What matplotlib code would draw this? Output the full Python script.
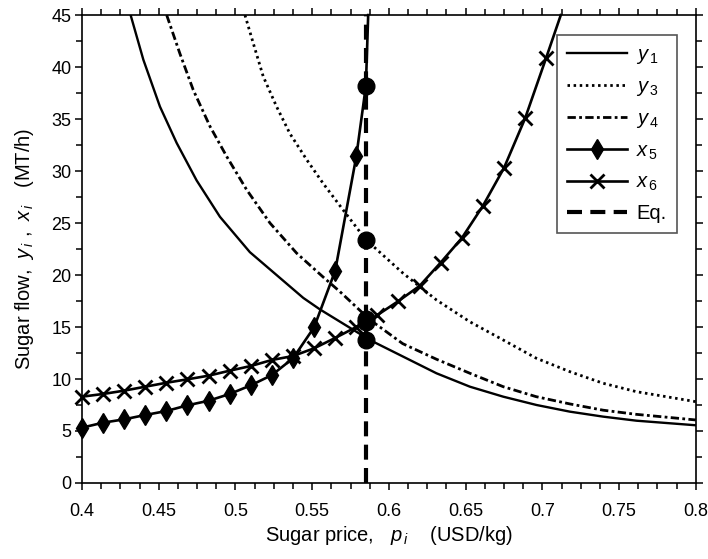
import matplotlib
matplotlib.use('Agg')
import matplotlib.pyplot as plt
import numpy as np

plt.rcParams['font.family'] = ['Liberation Sans', 'DejaVu Sans']
plt.rcParams['mathtext.fontset'] = 'custom'
plt.rcParams['mathtext.rm'] = 'Liberation Sans'
plt.rcParams['mathtext.it'] = 'Liberation Sans:italic'

# demand curves (price, flow)
p_y1 = [0.4317, 0.4400, 0.4508, 0.4617, 0.4747, 0.4899, 0.5094, 0.5268, 0.5442,
        0.555, 0.5876, 0.6093, 0.631, 0.6528, 0.6745, 0.6962, 0.7179, 0.7396,
        0.7613, 0.8]
y1 = [45, 40.7, 36.2, 32.7, 29.1, 25.6, 22.2, 20.0, 17.8,
      16.7, 13.75, 12.15, 10.55, 9.26, 8.3, 7.5, 6.86, 6.38,
      5.99, 5.55]

p_y3 = [0.5062, 0.5116, 0.5181, 0.5268, 0.5355, 0.5464, 0.5572, 0.5702, 0.585,
        0.609, 0.631, 0.6528, 0.6745, 0.696, 0.718, 0.7396, 0.7613, 0.8]
y3 = [45, 42.3, 39.1, 36.2, 33.6, 31.1, 28.8, 26.25, 23.4,
      20.2, 17.6, 15.5, 13.75, 12.0, 10.7, 9.59, 8.78, 7.82]

p_y4 = [0.4552, 0.4638, 0.4725, 0.4834, 0.4943, 0.5073, 0.5225, 0.5399, 0.5572,
        0.5681, 0.5876, 0.609, 0.631, 0.6528, 0.6745, 0.696, 0.718, 0.7396,
        0.7613, 0.8]
y4 = [45, 41.3, 37.8, 34.3, 31.4, 28.2, 25.0, 22.1, 19.8,
      18.4, 15.7, 13.4, 11.9, 10.55, 9.26, 8.3, 7.6, 7.0,
      6.6, 6.06]

# supply curves, one value per marker (last points are where they leave the top)
p_x5 = [0.4, 0.41375, 0.4275, 0.44125, 0.455, 0.46875, 0.4825, 0.49625,
        0.51, 0.52375, 0.5375, 0.55125, 0.565, 0.57875, 0.585, 0.5865]
x5 = [5.32, 5.8, 6.12, 6.54, 6.92, 7.47, 7.91, 8.56,
      9.39, 10.38, 11.99, 14.97, 20.41, 31.4, 38.2, 45]
n_x5_marks = 14

p_x6 = [0.4, 0.41375, 0.4275, 0.44125, 0.455, 0.46875, 0.4825, 0.49625,
        0.51, 0.52375, 0.5375, 0.55125, 0.565, 0.57875, 0.5925, 0.60625,
        0.62, 0.63375, 0.6475, 0.66125, 0.675, 0.68875, 0.7025, 0.712]
x6 = [8.3, 8.56, 8.88, 9.26, 9.64, 9.97, 10.32, 10.8,
      11.25, 11.83, 12.21, 12.95, 13.95, 15.0, 16.15, 17.5,
      18.95, 21.2, 23.55, 26.65, 30.3, 35.07, 40.9, 45]
n_x6_marks = 23

# equilibrium price and the flows marked on it
p_eq = 0.585
eq_flows = [38.2, 23.4, 15.8, 15.5, 13.75]

xticks = [0.4, 0.45, 0.5, 0.55, 0.6, 0.65, 0.7, 0.75, 0.8]
xticklabels = ['0.4', '0.45', '0.5', '0.55', '0.6', '0.65', '0.7', '0.75', '0.8']
yticks = [0, 5, 10, 15, 20, 25, 30, 35, 40, 45]

fig = plt.figure(figsize=(7.08, 5.59), dpi=100)
ax = fig.add_axes([0.1158, 0.136, 0.867, 0.837])

k = 'black'
ax.plot(p_y1, y1, color=k, lw=1.7, label=r'$\mathit{y}_{\,\mathit{1}}$')
ax.plot(p_y3, y3, color=k, lw=2.0, dashes=(0.9, 1.3), label=r'$\mathit{y}_{\,\mathit{3}}$')
ax.plot(p_y4, y4, color=k, lw=2.0, dashes=(3.0, 1.2, 1.0, 1.2), label=r'$\mathit{y}_{\,\mathit{4}}$')
# markers on the left edge are drawn whole, like the original
ax.plot(p_x5, x5, color=k, lw=1.9, marker='d', ms=10, markevery=list(range(n_x5_marks)),
        clip_on=False, label=r'$\mathit{x}_{\,\mathit{5}}$')
ax.plot(p_x6, x6, color=k, lw=1.9, marker='x', ms=10, mew=2.0, markevery=list(range(n_x6_marks)),
        clip_on=False, label=r'$\mathit{x}_{\,\mathit{6}}$')
ax.plot([p_eq, p_eq], [0, 45], color=k, lw=3.0, dashes=(3.6, 2.0), label='Eq.')
ax.plot([p_eq] * len(eq_flows), eq_flows, 'o', color=k, ms=12, zorder=5)

ax.set_xlim(0.4, 0.8)
ax.set_ylim(0, 45)
ax.set_xticks(xticks)
ax.set_xticklabels(xticklabels)
ax.set_yticks(yticks)
ax.set_xticks(np.arange(0.4, 0.8001, 0.0125), minor=True)
ax.set_yticks(np.arange(0, 45.01, 2.5), minor=True)
ax.tick_params(which='both', direction='out', top=True, right=True, labelsize=13, width=1.1)
ax.tick_params(which='major', length=5)
ax.tick_params(which='minor', length=4)
ax.tick_params(axis='x', which='major', pad=9.5)
ax.tick_params(axis='y', which='major', pad=2.5)
for s in ax.spines.values():
    s.set_linewidth(1.2)

ax.set_xlabel(r'Sugar price,   $\mathit{p}_{\,\mathit{i}}$    (USD/kg)', fontsize=14.5, labelpad=3)
ax.set_ylabel(r'Sugar flow,  $\mathit{y}_{\,\mathit{i}}$ ,  $\mathit{x}_{\,\mathit{i}}$   (MT/h)',
              fontsize=14.5, labelpad=11)

leg = ax.legend(loc='upper right', bbox_to_anchor=(0.969, 0.957), fontsize=14.5, fancybox=False,
                handlelength=3.0, labelspacing=0.55, borderpad=0.5, handletextpad=0.45,
                borderaxespad=0, framealpha=1)
leg.get_frame().set_edgecolor('#555555')
leg.get_frame().set_linewidth(1.2)

fig.savefig('out.png', dpi=100)
